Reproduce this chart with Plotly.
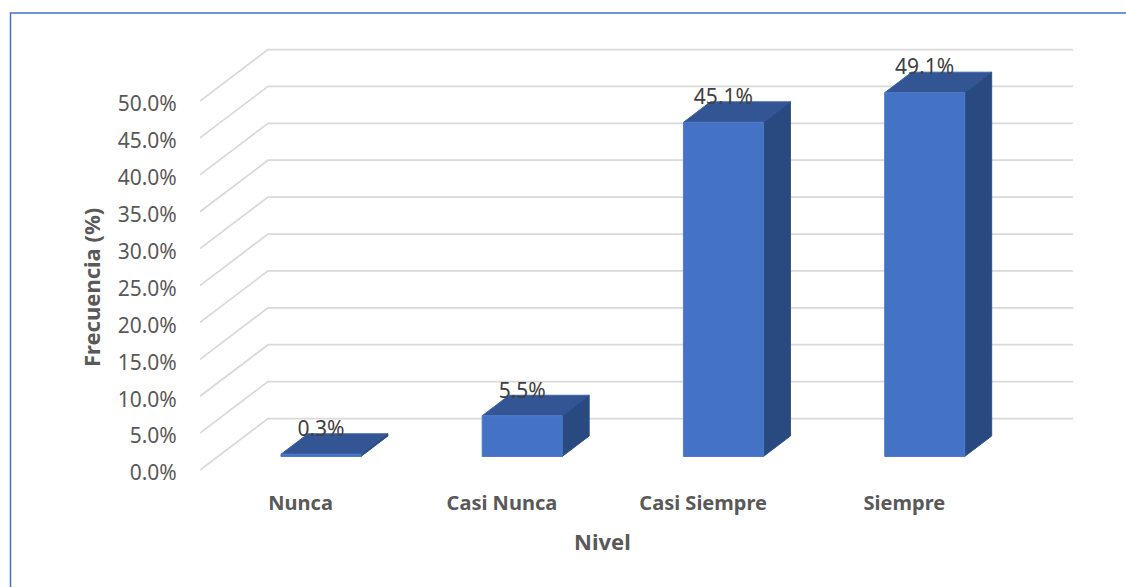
import plotly.graph_objects as go

categories = ["Nunca", "Casi Nunca", "Casi Siempre", "Siempre"]
values = [0.3, 5.5, 45.1, 49.1]
labels = ["0.3%", "5.5%", "45.1%", "49.1%"]
y_ticks = [0, 5, 10, 15, 20, 25, 30, 35, 40, 45, 50]
x_title = "Nivel"
y_title = "Frecuencia (%)"

# figure is placed 8px in from the page corner by the body margin
W, H = 1118, 579
L, R, T, B = 192, 53, 39, 103
PLOT_W, PLOT_H = W - L - R, H - T - B
PX_X = 201.25                   # pixels per category
PX_Y = 7.38                     # pixels per percent
FLOOR_PX = 462 - T              # pixel of 0% below the plot top
Y_MAX = FLOOR_PX / PX_Y
Y_MIN = Y_MAX - PLOT_H / PX_Y
X_MIN = -0.5
X_MAX = X_MIN + PLOT_W / PX_X

WALL_DX, WALL_DY = 68 / PX_X, 51.5 / PX_Y   # depth of the floor, data units
BAR_W = 80 / PX_X
BAR_SHIFT = 20.3 / PX_X                     # bar centre offset from tick
BAR_BASE = 13.5 / PX_Y                      # front base lift above front floor edge
BAR_DX, BAR_DY = 27 / PX_X, 20.5 / PX_Y     # bar depth
BAR_SCALE = 1.004
LABEL_LIFT = 23.5 / PX_Y

grid_x, grid_y = [], []
for t in y_ticks:
    grid_x += [X_MIN, X_MIN + WALL_DX, X_MAX, None]
    grid_y += [t, t + WALL_DY, t + WALL_DY, None]

front_x, front_y, top_x, top_y, side_x, side_y, lab_x, lab_y = [], [], [], [], [], [], [], []
for i, v in enumerate(values):
    x0 = i + BAR_SHIFT - BAR_W / 2
    x1 = x0 + BAR_W
    y0 = BAR_BASE
    y1 = y0 + v * BAR_SCALE
    front_x += [x0, x1, x1, x0, x0, None]
    front_y += [y0, y0, y1, y1, y0, None]
    top_x += [x0, x1, x1 + BAR_DX, x0 + BAR_DX, x0, None]
    top_y += [y1, y1, y1 + BAR_DY, y1 + BAR_DY, y1, None]
    side_x += [x1, x1 + BAR_DX, x1 + BAR_DX, x1, x1, None]
    side_y += [y0, y0 + BAR_DY, y1 + BAR_DY, y1, y0, None]
    lab_x.append(i + BAR_SHIFT)
    lab_y.append(y1 + LABEL_LIFT)


def face(x, y, color, edge):
    return go.Scatter(x=x, y=y, mode="lines", fill="toself", fillcolor=color,
                      line=dict(color=edge, width=1), hoverinfo="skip",
                      showlegend=False)


fig = go.Figure()
fig.add_trace(go.Scatter(x=grid_x, y=grid_y, mode="lines", hoverinfo="skip",
                         line=dict(color="#D9D9D9", width=1.75), showlegend=False))
fig.add_trace(face(top_x, top_y, "#335593", "#3D64A8"))
fig.add_trace(face(side_x, side_y, "#294A80", "#2F5290"))
fig.add_trace(face(front_x, front_y, "#4472C4", "#4F7BCB"))
fig.add_trace(go.Scatter(x=lab_x, y=lab_y, mode="text", text=labels,
                         textposition="middle center", showlegend=False,
                         textfont=dict(family="Noto Sans", size=21, color="#404040"),
                         cliponaxis=False))

BORDER_X = (2.5 - L) / PLOT_W
BORDER_Y = 1 + (T - 5) / PLOT_H
fig.update_layout(
    width=W, height=H, autosize=False,
    margin=dict(l=L, r=R, t=T, b=B, pad=0),
    paper_bgcolor="white", plot_bgcolor="white",
    showlegend=False,
    font=dict(family="Noto Sans", color="#595959", size=21),
    xaxis=dict(
        range=[X_MIN, X_MAX], tickmode="array", tickvals=[0, 1, 2, 3], ticktext=categories,
        showgrid=False, zeroline=False, showline=False, ticks="outside", ticklen=1,
        tickcolor="rgba(0,0,0,0)",
        tickfont=dict(family="Noto Sans", size=20, color="#595959", weight="bold"),
    ),
    yaxis=dict(
        range=[Y_MIN, Y_MAX], tickmode="array", tickvals=y_ticks,
        ticktext=[f"{t:.1f}%" for t in y_ticks],
        showgrid=False, zeroline=False, showline=False, ticks="outside", ticklen=18,
        ticklabelshift=3,
        tickcolor="rgba(0,0,0,0)",
        tickfont=dict(family="Noto Sans", size=21, color="#595959"),
    ),
    annotations=[
        dict(text=f"<b>{x_title}</b>", xref="paper", yref="paper", showarrow=False,
             x=(594 - L) / PLOT_W, y=1 - (533 - T) / PLOT_H,
             xanchor="center", yanchor="middle",
             font=dict(family="Noto Sans", size=22, color="#595959")),
        dict(text=f"<b>{y_title}</b>", xref="paper", yref="paper", showarrow=False,
             x=(83 - L) / PLOT_W, y=1 - (280 - T) / PLOT_H, textangle=-90,
             xanchor="center", yanchor="middle",
             font=dict(family="Noto Sans", size=22, color="#595959")),
    ],
    shapes=[dict(type="path", xref="paper", yref="paper",
                 path=f"M {BORDER_X} {-B / PLOT_H} L {BORDER_X} {BORDER_Y} "
                      f"L {1 + R / PLOT_W} {BORDER_Y}",
                 line=dict(color="#4472C4", width=1.5))],
)

fig.write_html("out.html", post_script="document.body.style.marginRight='0';")
